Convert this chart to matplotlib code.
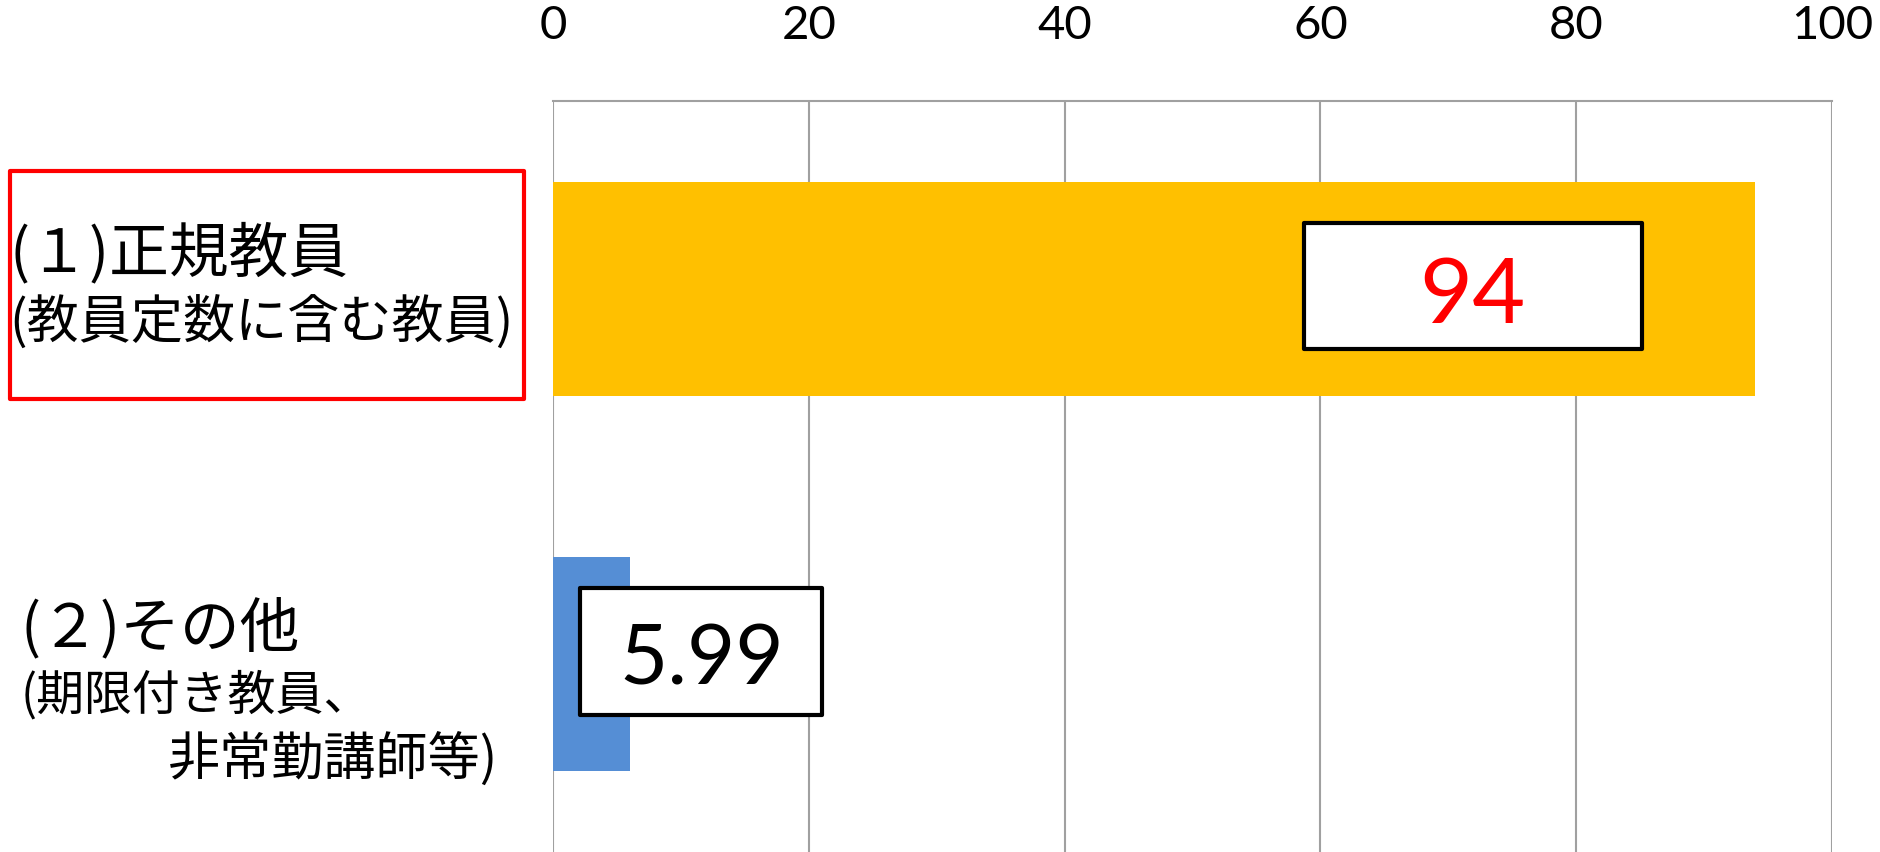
import matplotlib
matplotlib.use('Agg')
import matplotlib.pyplot as plt
import matplotlib.transforms as mtransforms
from matplotlib.patches import Rectangle

plt.rcParams['font.family'] = ['Noto Sans CJK JP', 'DejaVu Sans']

# data
categories = ['正規教員', 'その他']
values = [94, 5.99]
value_labels = ['94', '5.99']
bar_colors = ['#FFC000', '#558ED5']
label_colors = ['#FF0000', '#000000']
xticks = [0, 20, 40, 60, 80, 100]

fig = plt.figure(figsize=(18.81, 8.53), dpi=100)
ax = fig.add_axes([0.294, 0.0, 0.680, 0.880])

ypos = list(range(len(categories)))
ax.barh(ypos, values, height=0.57, color=bar_colors, zorder=2)

ax.set_xlim(0, 100)
ax.set_ylim(1.5, -0.5)
ax.xaxis.tick_top()
ax.set_xticks(xticks)
ax.set_xticklabels([str(t) for t in xticks], fontfamily='Lato', fontsize=34)
ax.tick_params(axis='x', length=0, pad=40)
ax.set_yticks([])
ax.grid(axis='x', color='#A0A0A0', linewidth=1.5, zorder=0)
for s in ['left', 'right', 'bottom']:
    ax.spines[s].set_visible(False)
ax.spines['top'].set_color('#A0A0A0')
ax.spines['top'].set_linewidth(1.5)

# value label boxes (x0, x1, y0, y1 in data units)
boxes = [(58.7, 85.1, -0.177, 0.161), (2.1, 21.0, 0.796, 1.135)]
text_pos = [(71.9, 0.02), (11.6, 0.99)]
fsizes = [66, 60]
for i, (x0, x1, y0, y1) in enumerate(boxes):
    ax.add_patch(Rectangle((x0, y0), x1 - x0, y1 - y0, facecolor='white',
                           edgecolor='black', linewidth=3, joinstyle='round', zorder=3))
    tx, ty = text_pos[i]
    ax.text(tx, ty, value_labels[i], color=label_colors[i], fontsize=fsizes[i],
            fontfamily='Lato', ha='center', va='center', zorder=4)

# category labels
tr = mtransforms.blended_transform_factory(fig.transFigure, ax.transData)
ax.text(0.005, -0.095, '(１)正規教員', transform=tr, fontsize=43, ha='left', va='center')
ax.text(0.005, 0.09, '(教員定数に含む教員)', transform=tr, fontsize=37.5, ha='left', va='center')
ax.text(0.011, 0.905, '(２)その他', transform=tr, fontsize=43, ha='left', va='center')
ax.text(0.011, 1.08, '(期限付き教員、', transform=tr, fontsize=34.5, ha='left', va='center')
ax.text(0.089, 1.254, '非常勤講師等)', transform=tr, fontsize=37.5, ha='left', va='center')

# red frame around first label
fig.patches.append(Rectangle((10 / 1881, 1 - 400 / 853), 514 / 1881, 228 / 853,
                             transform=fig.transFigure, fill=False, edgecolor='#FF0000',
                             linewidth=3, joinstyle='round'))

fig.savefig('out.png', dpi=100)
